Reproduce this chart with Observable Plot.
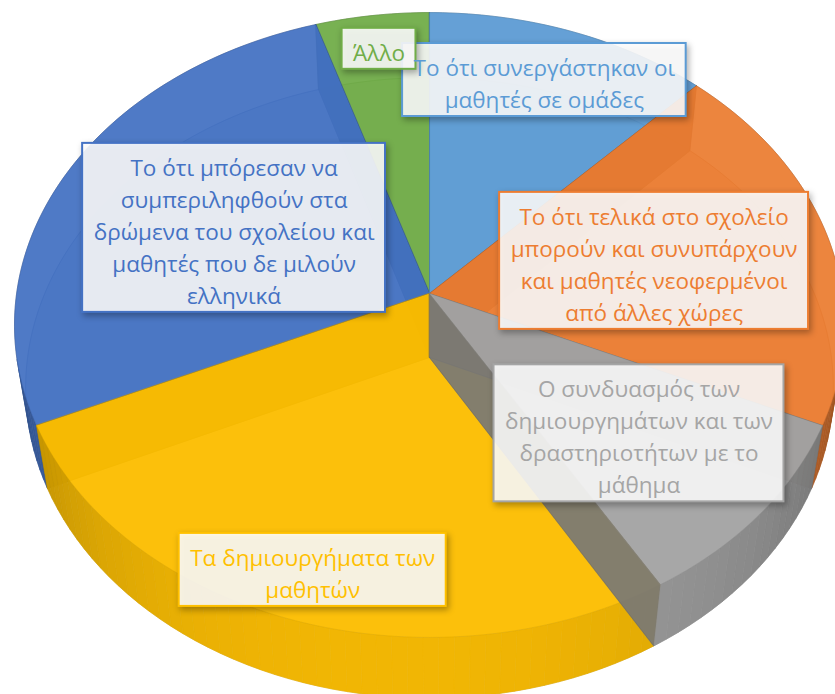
<!DOCTYPE html>
<html><head><meta charset="utf-8">
<script src="https://cdn.jsdelivr.net/npm/d3@7"></script>
<script src="https://cdn.jsdelivr.net/npm/@observablehq/plot@0.6"></script>
<style>
html,body{margin:0;padding:0;background:#fff;}
#chart svg g[aria-label="rect"] rect{filter:drop-shadow(2px 3px 3px rgba(0,0,0,0.35));}
</style></head><body><div id="chart"></div>
<script>
// ---- data ----
const categories = [
  "Το ότι συνεργάστηκαν οι μαθητές σε ομάδες",
  "Το ότι τελικά στο σχολείο μπορούν και συνυπάρχουν και μαθητές νεοφερμένοι από άλλες χώρες",
  "Ο συνδυασμός των δημιουργημάτων και των δραστηριοτήτων με το μάθημα",
  "Τα δημιουργήματα των μαθητών",
  "Το ότι μπόρεσαν να συμπεριληφθούν στα δρώμενα του σχολείου και μαθητές που δε μιλούν ελληνικά",
  "Άλλο"
];
const values = [5, 8, 4, 11, 11, 2];
const labelLines = [
  ["Το ότι συνεργάστηκαν οι", "μαθητές σε ομάδες"],
  ["Το ότι τελικά στο σχολείο", "μπορούν και συνυπάρχουν", "και μαθητές νεοφερμένοι", "από άλλες χώρες"],
  ["Ο συνδυασμός των", "δημιουργημάτων και των", "δραστηριοτήτων με το", "μάθημα"],
  ["Τα δημιουργήματα των", "μαθητών"],
  ["Το ότι μπόρεσαν να", "συμπεριληφθούν στα", "δρώμενα του σχολείου και", "μαθητές που δε μιλούν", "ελληνικά"],
  ["Άλλο"]
];
const colors = ["#5B9BD5", "#ED7D31", "#A5A5A5", "#FFC000", "#4472C4", "#70AD47"];

// ---- layout ----
const labelRadius = [0.80, 0.56, 0.65, 0.86, 0.53, 0.87];
const drawOrder = [5, 4, 0, 1, 3, 2];
const boxOrder = [4, 3, 2, 1, 0, 5];
const W = 835, H = 694, CX = 429, CY = 293;
const ELEV = 48.5 * Math.PI / 180, SN = Math.sin(ELEV), CS = Math.cos(ELEV);
const DIST = 6.573, FOC = 2714, THICK = 0.24;
const FONT = 22.5, LINE = 32, FONTFAM = "Open Sans";
const FRONT_MIN = 102, FRONT_MAX = 258;

function project(theta, r, h) {
  const a = theta * Math.PI / 180;
  const X = r * Math.sin(a), Z = -r * Math.cos(a);
  const up = -Z * SN + h * CS;
  const depth = DIST - Z * CS - h * SN;
  return [FOC * X / depth, FOC * up / depth];
}
function shade(c, f) {
  const r = d3.rgb(c);
  return d3.rgb(Math.min(255, r.r * f), Math.min(255, r.g * f), Math.min(255, r.b * f)).formatHex();
}
function arc(a1, a2, h, step = 1) {
  const n = Math.max(1, Math.ceil((a2 - a1) / step));
  const pts = [];
  for (let k = 0; k <= n; k++) pts.push(project(a1 + (a2 - a1) * k / n, 1, h));
  return pts;
}

const total = d3.sum(values);
const ends = d3.cumsum(values).map(v => v / total * 360);
const starts = ends.map((e, i) => i ? ends[i - 1] : 0);

const rows = [];
let gid = 0;
function poly(pts, fill, stroke, fo) {
  const id = gid++;
  for (const [x, y] of pts) rows.push({id, x, y, fill, stroke, fo});
}
function wallShade(t) {
  const k = 0.62 + 0.33 * Math.cos((t - 185) * Math.PI / 180);
  return Math.max(0.55, k);
}
function band(a1, a2) {
  return [...arc(a1, a2, 0), ...arc(a1, a2, -THICK).reverse()];
}

for (const i of drawOrder) {
  const a1 = starts[i], a2 = ends[i], col = colors[i];
  // bottom face
  poly([project(0, 0, -THICK), ...arc(a1, a2, -THICK)], shade(col, 0.75), shade(col, 0.75), 0.55);
  // radial walls
  for (const a of [a1, a2]) {
    poly([project(0, 0, 0), project(a, 1, 0), project(a, 1, -THICK), project(0, 0, -THICK)],
      shade(col, 0.72), shade(col, 0.6), 0.8);
  }
  // back (hidden) part of the outer wall, one piece
  const f1 = Math.max(a1, FRONT_MIN), f2 = Math.min(a2, FRONT_MAX);
  if (a1 < Math.min(a2, FRONT_MIN)) poly(band(a1, Math.min(a2, FRONT_MIN)), shade(col, 0.7), shade(col, 0.6), 0.35);
  if (Math.max(a1, FRONT_MAX) < a2) poly(band(Math.max(a1, FRONT_MAX), a2), shade(col, 0.7), shade(col, 0.6), 0.35);
  // visible part of the outer wall, shaded in steps
  if (f1 < f2) {
    const n = Math.max(1, Math.ceil((f2 - f1) / 2));
    for (let k = 0; k < n; k++) {
      const t0 = f1 + (f2 - f1) * k / n, t1 = f1 + (f2 - f1) * (k + 1) / n;
      const c = shade(col, wallShade((t0 + t1) / 2));
      poly([project(t0, 1, 0), project(t1, 1, 0), project(t1, 1, -THICK), project(t0, 1, -THICK)], c, c, 0.97);
    }
  }
  // top face
  poly([project(0, 0, 0), ...arc(a1, a2, 0)], col, shade(col, 0.85), 0.9);
}

// labels
const ctx = document.createElement("canvas").getContext("2d");
ctx.font = `${FONT}px "${FONTFAM}"`;
const labels = boxOrder.map(i => {
  const mid = (starts[i] + ends[i]) / 2;
  const [x, y] = project(mid, labelRadius[i], 0);
  const lines = labelLines[i];
  const w = d3.max(lines, s => ctx.measureText(s).width) + 22;
  const h = lines.length * LINE + 9;
  return {x, y, x1: x - w / 2, x2: x + w / 2, y1: y - h / 2, y2: y + h / 2,
    text: lines.join("\n"), color: colors[i], name: categories[i], value: values[i]};
});

const chart = Plot.plot({
  width: W, height: H,
  marginTop: 0, marginRight: 0, marginBottom: 0, marginLeft: 0,
  x: {domain: [-CX, W - CX], axis: null},
  y: {domain: [CY - H, CY], axis: null},
  color: {type: "identity"},
  opacity: {domain: [0, 1], range: [0, 1]},
  style: {background: "white"},
  marks: [
    Plot.line(rows, {x: "x", y: "y", z: "id", fill: "fill", stroke: "stroke", fillOpacity: "fo",
      strokeWidth: 0.6, strokeOpacity: 0.7, curve: "linear-closed"}),
    Plot.rect(labels, {x1: "x1", x2: "x2", y1: "y1", y2: "y2", fill: "white", fillOpacity: 0.88,
      stroke: "color", strokeWidth: 2}),
    Plot.text(labels, {x: "x", y: "y", text: "text", fill: "color", fontSize: FONT, fontFamily: FONTFAM,
      lineHeight: LINE / FONT, textAnchor: "middle", lineAnchor: "middle", dy: 1.5})
  ]
});
document.getElementById("chart").append(chart);
</script></body></html>
